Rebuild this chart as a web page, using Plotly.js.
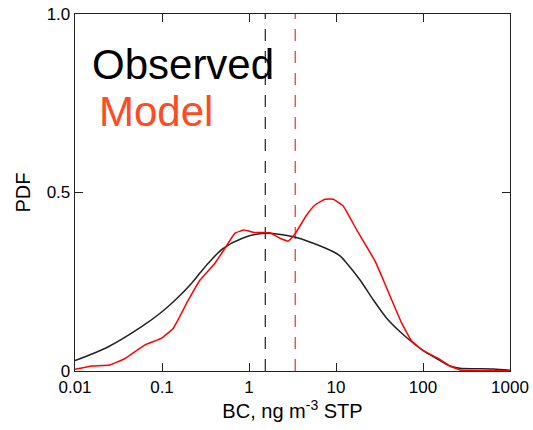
<!DOCTYPE html>
<html>
<head>
<meta charset="utf-8">
<script src="https://cdn.plot.ly/plotly-3.0.1.min.js"></script>
<style>html,body{margin:0;padding:0;background:#fff;}#chart{width:533px;height:430px;}</style>
</head>
<body>
<div id="chart"></div>
<script>
// Observed PDF (BC, ng m^-3 STP)
const obsX = [0.01, 0.0242, 0.0583, 0.1, 0.141, 0.219, 0.274, 0.340, 0.501, 0.841, 1.53, 3.24, 5.48, 9.31, 11.2, 13.3, 18.9, 26.9, 38.2, 54.5, 74.1, 100.7, 143.5, 204, 266, 414, 643, 1000];
const obsY = [0.029, 0.068, 0.124, 0.166, 0.198, 0.246, 0.275, 0.302, 0.343, 0.372, 0.386, 0.376, 0.358, 0.334, 0.322, 0.302, 0.255, 0.199, 0.148, 0.110, 0.082, 0.057, 0.035, 0.014, 0.0075, 0.0065, 0.0056, 0.002];
// Model PDF
const modX = [0.01, 0.01556, 0.0252, 0.0376, 0.0638, 0.0991, 0.135, 0.201, 0.274, 0.406, 0.530, 0.690, 0.881, 1.148, 1.738, 2.27, 2.83, 3.38, 4.60, 5.74, 7.48, 9.31, 12.1, 17.3, 28.1, 35.0, 43.7, 56.9, 74.1, 100.7, 150, 204, 266, 414, 1000];
const modY = [0.005, 0.014, 0.017, 0.035, 0.073, 0.092, 0.120, 0.199, 0.255, 0.302, 0.344, 0.386, 0.395, 0.388, 0.387, 0.372, 0.364, 0.384, 0.437, 0.465, 0.481, 0.481, 0.462, 0.395, 0.308, 0.255, 0.199, 0.134, 0.084, 0.057, 0.035, 0.014, 0.003, 0.001, 0.001];
// Median values (dashed lines)
const obsMedian = [1.54];
const modMedian = [3.4];
const medianSpan = [0, 1];
// Tick labels
const xTickVals = [0.01, 0.1, 1, 10, 100, 1000];
const xTickText = ['0.01', '0.1', '1', '10', '100', '1000'];
const yTickVals = [0, 0.5, 1];
const yTickText = ['0', '0.5', '1.0'];
const labels = ['Observed', 'Model'];

const FONT = 'Liberation Sans, Arial, Helvetica, sans-serif';

const traces = [
  {x: [obsMedian[0], obsMedian[0]], y: medianSpan, mode: 'lines', line: {color: '#333', width: 1.3, dash: '12px,10px'}, hoverinfo: 'skip'},
  {x: [modMedian[0], modMedian[0]], y: medianSpan, mode: 'lines', line: {color: '#e8413a', width: 1.3, dash: '12px,10px'}, hoverinfo: 'skip'},
  {x: obsX, y: obsY, mode: 'lines', line: {color: '#222', width: 1.5, shape: 'spline', smoothing: 0.8}, name: labels[0]},
  {x: modX, y: modY, mode: 'lines', line: {color: '#ff0000', width: 1.5, shape: 'spline', smoothing: 0.3}, name: labels[1]}
];

const axisCommon = {
  showgrid: false, zeroline: false, showline: true, linecolor: '#222', linewidth: 1.3,
  ticks: 'inside', ticklen: 8, tickwidth: 1, tickcolor: '#222', mirror: 'ticks',
  tickfont: {family: FONT, size: 17, color: '#000'}
};

const layout = {
  width: 533, height: 430,
  margin: {l: 75, r: 23, t: 14, b: 59},
  paper_bgcolor: '#fff', plot_bgcolor: '#fff',
  showlegend: false,
  font: {family: FONT, color: '#000'},
  xaxis: Object.assign({}, axisCommon, {
    type: 'log', range: [-2, 3], tickmode: 'array', tickvals: xTickVals, ticktext: xTickText,
    title: {text: 'BC, ng m<sup>-3</sup> STP', font: {family: FONT, size: 20, color: '#000'}, standoff: 4}
  }),
  yaxis: Object.assign({}, axisCommon, {
    range: [0, 1], tickmode: 'array', tickvals: yTickVals, ticktext: yTickText,
    title: {text: 'PDF', font: {family: FONT, size: 20, color: '#000'}, standoff: 10}
  }),
  annotations: [
    {xref: 'paper', yref: 'paper', x: 0.035, y: 0.858, xanchor: 'left', yanchor: 'middle', text: labels[0], showarrow: false, font: {family: FONT, size: 42, color: '#000'}},
    {xref: 'paper', yref: 'paper', x: 0.051, y: 0.727, xanchor: 'left', yanchor: 'middle', text: labels[1], showarrow: false, font: {family: FONT, size: 42, color: '#ff4a22'}}
  ]
};

Plotly.newPlot('chart', traces, layout, {staticPlot: true, displayModeBar: false});
</script>
</body>
</html>
